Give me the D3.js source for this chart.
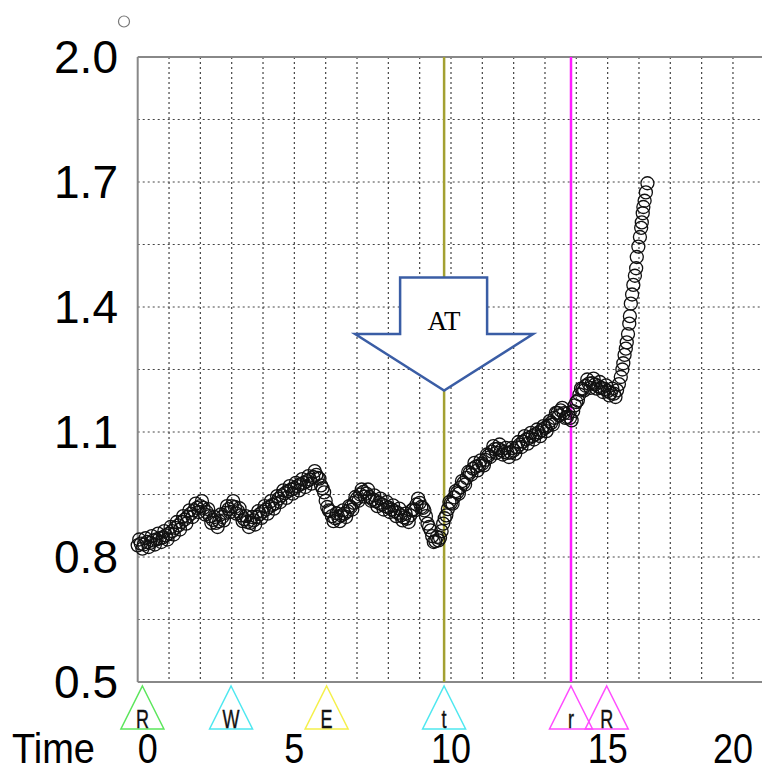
<!DOCTYPE html>
<html>
<head>
<meta charset="utf-8">
<script src="https://cdn.jsdelivr.net/npm/d3@7"></script>
<style>
  body { margin: 0; background: #fff; }
  svg { display: block; }
</style>
</head>
<body>
<div id="chart"></div>
<script>
// time (min) and values
const times = [
  0.0, 0.1, 0.2, 0.3, 0.4, 0.5, 0.6, 0.7, 0.8, 0.9,
  1.0, 1.1, 1.2, 1.3, 1.4, 1.5, 1.6, 1.7, 1.8, 1.9,
  2.0, 2.1, 2.2, 2.3, 2.4, 2.5, 2.6, 2.7, 2.8, 2.9,
  3.0, 3.1, 3.2, 3.3, 3.4, 3.5, 3.6, 3.7, 3.8, 3.9,
  4.0, 4.1, 4.2, 4.3, 4.4, 4.5, 4.6, 4.7, 4.8, 4.9,
  5.0, 5.1, 5.2, 5.3, 5.4, 5.5, 5.6, 5.7, 5.8, 5.9,
  6.0, 6.1, 6.2, 6.3, 6.4, 6.5, 6.6, 6.7, 6.8, 6.9,
  7.0, 7.1, 7.2, 7.3, 7.4, 7.5, 7.6, 7.7, 7.8, 7.9,
  8.0, 8.1, 8.2, 8.3, 8.4, 8.5, 8.6, 8.7, 8.8, 8.9,
  9.0, 9.1, 9.2, 9.3, 9.4, 9.5, 9.6, 9.7, 9.8, 9.9,
  10.0, 10.1, 10.2, 10.3, 10.4, 10.5, 10.6, 10.7, 10.8, 10.9,
  11.0, 11.1, 11.2, 11.3, 11.4, 11.5, 11.6, 11.7, 11.8, 11.9,
  12.0, 12.1, 12.2, 12.3, 12.4, 12.5, 12.6, 12.7, 12.8, 12.9,
  13.0, 13.1, 13.2, 13.3, 13.4, 13.5, 13.6, 13.7, 13.8, 13.9,
  14.0, 14.1, 14.2, 14.3, 14.4, 14.5, 14.6, 14.7, 14.8, 14.9,
  15.0, 15.1, 15.2, 15.3,
  15.36, 15.42, 15.47, 15.50, 15.54, 15.58, 15.61, 15.65, 15.69, 15.71,
  15.74, 15.78, 15.82, 15.87, 15.91, 15.93, 15.98, 16.03, 16.07, 16.09,
  16.12, 16.14, 16.18, 16.22, 16.27
];
const values = [
  0.828, 0.832, 0.830, 0.836, 0.834, 0.840, 0.842, 0.845, 0.847, 0.852,
  0.856, 0.862, 0.870, 0.876, 0.884, 0.890, 0.897, 0.904, 0.912, 0.918,
  0.922, 0.918, 0.908, 0.898, 0.889, 0.882, 0.886, 0.896, 0.906, 0.915,
  0.922, 0.920, 0.910, 0.900, 0.891, 0.884, 0.882, 0.888, 0.896, 0.903,
  0.909, 0.914, 0.920, 0.925, 0.929, 0.940, 0.948, 0.953, 0.958, 0.962,
  0.965, 0.970, 0.975, 0.978, 0.982, 0.986, 0.992, 0.997, 0.988, 0.965,
  0.935, 0.912, 0.898, 0.893, 0.896, 0.900, 0.904, 0.910, 0.920, 0.930,
  0.940, 0.950, 0.956, 0.952, 0.944, 0.938, 0.934, 0.930, 0.926, 0.922,
  0.919, 0.914, 0.910, 0.906, 0.900, 0.895, 0.892, 0.900, 0.915, 0.926,
  0.930, 0.918, 0.898, 0.872, 0.850, 0.838, 0.840, 0.862, 0.893, 0.915,
  0.930, 0.943, 0.955, 0.967, 0.978, 0.990, 1.002, 1.012, 1.017, 1.020,
  1.024, 1.033, 1.044, 1.053, 1.059, 1.060, 1.056, 1.052, 1.050, 1.051,
  1.056, 1.063, 1.070, 1.077, 1.082, 1.086, 1.090, 1.095, 1.099, 1.104,
  1.110, 1.115, 1.122, 1.134, 1.146, 1.152, 1.145, 1.136, 1.134, 1.150,
  1.172, 1.190, 1.203, 1.211, 1.216, 1.217, 1.214, 1.210, 1.206, 1.203,
  1.198, 1.194, 1.192, 1.200,
  1.215, 1.232, 1.250, 1.265, 1.285, 1.300, 1.315, 1.335, 1.360, 1.378,
  1.408, 1.430, 1.453, 1.475, 1.493, 1.520, 1.545, 1.568, 1.590, 1.603,
  1.625, 1.640, 1.655, 1.675, 1.697
];

// the in-between breaths, which scatter around the trend
const times2 = [
  0.05, 0.15, 0.25, 0.35, 0.45, 0.55, 0.65, 0.75, 0.85, 0.95,
  1.05, 1.15, 1.25, 1.35, 1.45, 1.55, 1.65, 1.75, 1.85, 1.95,
  2.05, 2.15, 2.25, 2.35, 2.45, 2.55, 2.65, 2.75, 2.85, 2.95,
  3.05, 3.15, 3.25, 3.35, 3.45, 3.55, 3.65, 3.75, 3.85, 3.95,
  4.05, 4.15, 4.25, 4.35, 4.45, 4.55, 4.65, 4.75, 4.85, 4.95,
  5.05, 5.15, 5.25, 5.35, 5.45, 5.55, 5.65, 5.75, 5.85, 5.95,
  6.05, 6.15, 6.25, 6.35, 6.45, 6.55, 6.65, 6.75, 6.85, 6.95,
  7.05, 7.15, 7.25, 7.35, 7.45, 7.55, 7.65, 7.75, 7.85, 7.95,
  8.05, 8.15, 8.25, 8.35, 8.45, 8.55, 8.65, 8.75, 8.85, 8.95,
  9.05, 9.15, 9.25, 9.35, 9.45, 9.55, 9.65, 9.75, 9.85, 9.95,
  10.05, 10.15, 10.25, 10.35, 10.45, 10.55, 10.65, 10.75, 10.85, 10.95,
  11.05, 11.15, 11.25, 11.35, 11.45, 11.55, 11.65, 11.75, 11.85, 11.95,
  12.05, 12.15, 12.25, 12.35, 12.45, 12.55, 12.65, 12.75, 12.85, 12.95,
  13.05, 13.15, 13.25, 13.35, 13.45, 13.55, 13.65, 13.75, 13.85, 13.95,
  14.05, 14.15, 14.25, 14.35, 14.45, 14.55, 14.65, 14.75, 14.85, 14.95,
  15.05, 15.15, 15.25
];
const values2 = [
  0.842, 0.820, 0.845, 0.824, 0.850, 0.830, 0.856, 0.836, 0.862, 0.842,
  0.872, 0.854, 0.884, 0.866, 0.898, 0.880, 0.912, 0.896, 0.928, 0.908,
  0.934, 0.902, 0.915, 0.882, 0.896, 0.872, 0.902, 0.888, 0.922, 0.908,
  0.934, 0.904, 0.917, 0.886, 0.898, 0.872, 0.896, 0.878, 0.910, 0.894,
  0.922, 0.904, 0.934, 0.916, 0.946, 0.932, 0.960, 0.942, 0.970, 0.952,
  0.978, 0.960, 0.987, 0.968, 0.994, 0.976, 1.006, 0.990, 0.972, 0.955,
  0.920, 0.910, 0.886, 0.905, 0.886, 0.912, 0.896, 0.922, 0.914, 0.944,
  0.935, 0.962, 0.945, 0.962, 0.935, 0.948, 0.922, 0.940, 0.914, 0.932,
  0.908, 0.924, 0.898, 0.916, 0.888, 0.904, 0.884, 0.912, 0.912, 0.940,
  0.920, 0.912, 0.880, 0.864, 0.836, 0.848, 0.846, 0.880, 0.900, 0.932,
  0.928, 0.958, 0.952, 0.982, 0.974, 1.004, 0.998, 1.026, 1.008, 1.032,
  1.020, 1.046, 1.040, 1.066, 1.050, 1.070, 1.046, 1.062, 1.040, 1.062,
  1.048, 1.076, 1.064, 1.090, 1.072, 1.098, 1.082, 1.106, 1.090, 1.114,
  1.102, 1.126, 1.118, 1.146, 1.140, 1.158, 1.134, 1.146, 1.128, 1.164,
  1.176, 1.204, 1.200, 1.226, 1.206, 1.228, 1.204, 1.220, 1.196, 1.212,
  1.188, 1.204, 1.184
];

const yTickValues = [0.5, 0.8, 1.1, 1.4, 1.7, 2.0];
const yTickLabels = ['0.5', '0.8', '1.1', '1.4', '1.7', '2.0'];
const xTickValues = [0, 5, 10, 15, 20];

const markerTimes = [0.15, 2.98, 6.03, 9.78, 13.83, 14.97];
const markerLabels = ['R', 'W', 'E', 't', 'r', 'R'];
const markerColors = ['#5ce65c', '#4fe8f0', '#f5f04a', '#4fe8f0', '#ff4cff', '#ff4cff'];

const atTime = 9.78;
const rTime = 13.83;

const width = 762, height = 769;
const plotLeft = 137.7, plotRight = 764.3, plotTop = 57, plotBottom = 682;

const svg = d3.select('#chart').append('svg')
    .attr('width', width).attr('height', height);

const x = d3.scaleLinear().domain([0, 20]).range([plotLeft, plotRight]);
const y = d3.scaleLinear().domain([0.5, 2.0]).range([plotBottom, plotTop]);

// grid
svg.append('g')
    .selectAll('line')
    .data(d3.range(1, 20))
    .enter().append('line')
    .attr('x1', d => x(d)).attr('x2', d => x(d))
    .attr('y1', plotTop).attr('y2', plotBottom)
    .attr('stroke', '#444').attr('stroke-width', 1.2)
    .attr('stroke-dasharray', '2,3');

svg.append('g')
    .selectAll('line')
    .data(d3.range(1, 10).map(i => 0.5 + i * 0.15))
    .enter().append('line')
    .attr('x1', plotLeft).attr('x2', width)
    .attr('y1', d => y(d)).attr('y2', d => y(d))
    .attr('stroke', '#444').attr('stroke-width', 1.2)
    .attr('stroke-dasharray', '2,3');

// frame
const frame = svg.append('g').attr('stroke', '#888').attr('stroke-width', 2).attr('fill', 'none');
frame.append('line').attr('x1', plotLeft).attr('x2', width).attr('y1', plotTop).attr('y2', plotTop);
frame.append('line').attr('x1', plotLeft).attr('x2', width).attr('y1', plotBottom).attr('y2', plotBottom);
frame.append('line').attr('x1', plotLeft).attr('x2', plotLeft).attr('y1', plotTop).attr('y2', plotBottom);

// event lines
svg.append('line')
    .attr('x1', x(atTime)).attr('x2', x(atTime))
    .attr('y1', plotTop).attr('y2', plotBottom)
    .attr('stroke', '#a3a032').attr('stroke-width', 2.5);
svg.append('line')
    .attr('x1', x(rTime)).attr('x2', x(rTime))
    .attr('y1', plotTop).attr('y2', plotBottom)
    .attr('stroke', '#ff1aff').attr('stroke-width', 2.5);

// AT arrow
const ax = x(atTime);
const arrow = [
    [ax - 44, 277.5], [ax + 43, 277.5], [ax + 43, 334], [ax + 89, 334],
    [ax, 390.5], [ax - 89, 334], [ax - 44, 334]
];
svg.append('path')
    .attr('d', d3.line()(arrow) + 'Z')
    .attr('fill', '#fff')
    .attr('stroke', '#3a5da5').attr('stroke-width', 2.5)
    .attr('stroke-linejoin', 'miter');
svg.append('text')
    .attr('x', ax).attr('y', 330)
    .attr('text-anchor', 'middle')
    .attr('font-family', 'Liberation Serif')
    .attr('font-size', 27)
    .text('AT');

// data
const pts = times.map((t, i) => ({ t: t, v: values[i] }))
    .concat(times2.map((t, i) => ({ t: t, v: values2[i] })));

svg.append('g')
    .selectAll('circle')
    .data(pts)
    .enter().append('circle')
    .attr('cx', d => x(d.t))
    .attr('cy', d => y(d.v))
    .attr('r', 6.5)
    .attr('fill', 'none')
    .attr('stroke', '#111').attr('stroke-width', 1.3);

// stray point above the plot
svg.append('circle')
    .attr('cx', 124).attr('cy', 21.5).attr('r', 5.5)
    .attr('fill', 'none').attr('stroke', '#777').attr('stroke-width', 1.2);

// y labels
svg.append('g')
    .selectAll('text')
    .data(yTickValues)
    .enter().append('text')
    .attr('x', 118)
    .attr('y', d => y(d) + 16)
    .attr('text-anchor', 'end')
    .attr('font-family', 'Liberation Sans')
    .attr('font-size', 46)
    .attr('textLength', 64)
    .attr('lengthAdjust', 'spacingAndGlyphs')
    .text((d, i) => yTickLabels[i]);

// x labels
svg.append('text')
    .attr('x', 12).attr('y', 763)
    .attr('font-family', 'Liberation Sans')
    .attr('font-size', 42)
    .attr('textLength', 83)
    .attr('lengthAdjust', 'spacingAndGlyphs')
    .text('Time');

svg.append('g')
    .selectAll('text')
    .data(xTickValues)
    .enter().append('text')
    .attr('x', d => {
        const w = String(d).length * 20;
        return Math.min(Math.max(x(d), plotLeft + w / 2), 753 - w / 2);
    })
    .attr('y', 763)
    .attr('text-anchor', 'middle')
    .attr('font-family', 'Liberation Sans')
    .attr('font-size', 42)
    .attr('textLength', d => String(d).length * 20)
    .attr('lengthAdjust', 'spacingAndGlyphs')
    .text(d => d);

// event markers
const mk = svg.append('g')
    .selectAll('g')
    .data(markerTimes)
    .enter().append('g')
    .attr('transform', d => `translate(${x(d)},0)`);

mk.append('path')
    .attr('d', 'M0,686 L21.5,729 L-21.5,729 Z')
    .attr('fill', 'none')
    .attr('stroke', (d, i) => markerColors[i])
    .attr('stroke-width', 1.5);

mk.append('text')
    .attr('y', 728)
    .attr('text-anchor', 'middle')
    .attr('transform', 'scale(0.72,1)')
    .attr('font-family', 'Liberation Sans')
    .attr('font-size', 25)
    .attr('stroke', '#111').attr('stroke-width', 0.4)
    .attr('fill', '#111')
    .text((d, i) => markerLabels[i]);
</script>
</body>
</html>
